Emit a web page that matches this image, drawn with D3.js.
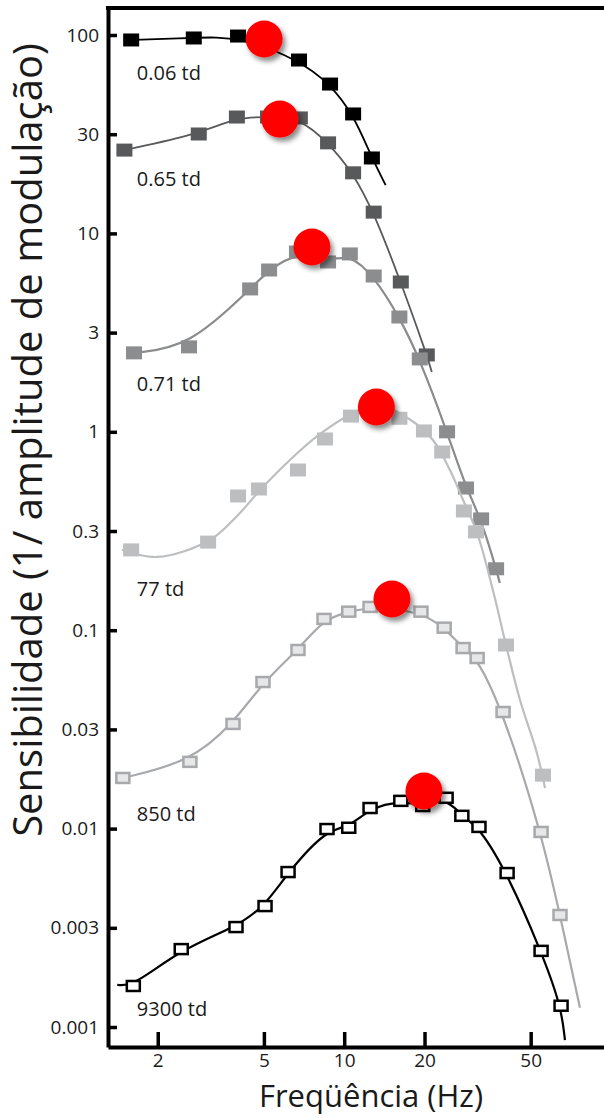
<!DOCTYPE html>
<html><head><meta charset="utf-8">
<script src="https://cdn.jsdelivr.net/npm/d3@7"></script>
<style>html,body{margin:0;padding:0;background:#fff;} svg{display:block;font-family:"Open Sans",sans-serif;}</style>
</head><body><svg id="chart" width="604" height="1118"></svg>
<script>
// ---------- data ----------
const seriesLabels = ["0.06 td", "0.65 td", "0.71 td", "77 td", "850 td", "9300 td"];

const freq006 = [1.59, 2.73, 4.00, 6.77, 8.85, 10.8, 12.7];
const sens006 = [94.4, 96.6, 98.8, 74.8, 56.6, 40.0, 24.0];

const freq065 = [1.50, 2.85, 3.96, 5.18, 6.82, 8.70, 10.8, 12.9, 16.3, 20.4];
const sens065 = [26.3, 31.7, 38.6, 38.6, 38.2, 28.6, 20.2, 12.8, 5.69, 2.44];

const freq071 = [1.63, 2.62, 4.44, 5.23, 6.65, 8.70, 10.5, 12.9, 16.1, 19.2, 24.3, 28.6, 32.6, 37.1];
const sens071 = [2.50, 2.68, 5.25, 6.54, 8.06, 7.18, 7.88, 6.10, 3.79, 2.33, 1.00, 0.521, 0.364, 0.204];

const freq77 = [1.59, 3.09, 4.00, 4.79, 6.71, 8.47, 10.6, 16.1, 19.9, 23.3, 28.1, 31.2, 40.4, 55.6];
const sens77 = [0.254, 0.278, 0.475, 0.515, 0.642, 0.920, 1.20, 1.17, 1.01, 0.791, 0.399, 0.313, 0.0842, 0.0186];

const freq850 = [1.48, 2.64, 3.83, 4.96, 6.71, 8.40, 10.4, 12.5, 19.4, 23.7, 27.9, 31.5, 39.4, 54.7, 64.4];
const sens850 = [0.0180, 0.0217, 0.0337, 0.0548, 0.0795, 0.114, 0.124, 0.131, 0.124, 0.103, 0.0813, 0.0724, 0.0387, 0.00962, 0.00367];

const freq9300 = [1.62, 2.45, 3.93, 5.05, 6.16, 8.62, 10.4, 12.5, 16.3, 19.7, 24.1, 27.6, 32.0, 40.8, 54.7, 65.0];
const sens9300 = [0.00161, 0.00247, 0.00319, 0.00407, 0.00604, 0.00995, 0.0101, 0.0127, 0.0138, 0.0130, 0.0143, 0.0116, 0.0102, 0.00597, 0.00242, 0.00128];

// fitted curve read along the drawn line of the 77 td series
const fitFreq77 = [1.47, 1.99, 3.14, 4.00, 4.84, 6.26, 8.12, 10.5, 13.2, 17.7, 21.5, 24.9, 27.9, 31.5, 36.1, 40.4, 45.6, 52.8, 56.6];
const fitSens77 = [0.254, 0.234, 0.285, 0.381, 0.509, 0.721, 0.975, 1.22, 1.37, 1.15, 0.909, 0.642, 0.453, 0.309, 0.159, 0.0842, 0.0445, 0.0240, 0.0160];

// where each fitted curve begins / ends beyond the data
const lineStartFreq = [null, null, null, null, null, 1.41];
const lineStartSens = [null, null, null, null, null, 0.00163];
const lineEndFreq = [14.3, 21.3, 38.3, null, 76.5, 67.2];
const lineEndSens = [17.5, 2.00, 0.173, null, 0.00125, 0.00086];

// peak (red dot) per series
const peakFreq = [5.01, 5.74, 7.57, 13.2, 15.1, 19.9];
const peakSens = [95.5, 37.7, 8.54, 1.334, 0.1437, 0.01547];

// series label anchor values
const labelFreq = [1.67, 1.67, 1.67, 1.67, 1.67, 1.67];
const labelSens = [59.3, 17.3, 1.606, 0.1487, 0.01092, 0.001136];

const xTickValues = [2, 5, 10, 20, 50];
const xTickLabels = ["2", "5", "10", "20", "50"];
// the original figure places the "3" ticks at half decades
const yTickValues = [100, 31.62, 10, 3.162, 1, 0.3162, 0.1, 0.03162, 0.01, 0.003162, 0.001];
const yTickLabels = ["100", "30", "10", "3", "1", "0.3", "0.1", "0.03", "0.01", "0.003", "0.001"];

const xTitle = "Freqüência (Hz)";
const yTitle = "Sensibilidade (1/ amplitude de modulação)";

// ---------- styling ----------
const styles = [
  {sq: "#000000", stroke: null, line: "#000000", lw: 1.8},
  {sq: "#58595b", stroke: null, line: "#58595b", lw: 1.8},
  {sq: "#8c8d8f", stroke: null, line: "#8a8b8d", lw: 2.2},
  {sq: "#bcbec0", stroke: null, line: "#bcbec0", lw: 2.2},
  {sq: "#e6e7e8", stroke: "#a7a9ac", line: "#a7a9ac", lw: 2.2},
  {sq: "#ffffff", stroke: "#000000", line: "#000000", lw: 2.2}
];

const allFreq = [freq006, freq065, freq071, freq77, freq850, freq9300];
const allSens = [sens006, sens065, sens071, sens77, sens850, sens9300];

const L = 108, R = 604, T = 7, B = 1047;

const x = d3.scaleLog().domain([1.302, 94.15]).range([L, R]);
const y = d3.scaleLog().domain([0.000793, 138.4]).range([B, T]);

const svg = d3.select("#chart");

const defs = svg.append("defs");
const f = defs.append("filter").attr("id", "shadow").attr("x", "-50%").attr("y", "-50%").attr("width", "200%").attr("height", "200%");
f.append("feDropShadow").attr("dx", 3).attr("dy", 4).attr("stdDeviation", 2.5)
  .attr("flood-color", "#000").attr("flood-opacity", 0.45);

// axes
const yAxis = svg.append("g").attr("transform", `translate(${L},0)`)
  .call(d3.axisLeft(y).tickValues(yTickValues)
    .tickFormat((d, i) => yTickLabels[i])
    .tickSizeInner(-9).tickSizeOuter(0).tickPadding(9));
yAxis.select(".domain").attr("stroke", "#000").attr("stroke-width", 4);
yAxis.selectAll(".tick line").attr("stroke", "#000").attr("stroke-width", 3.5);
yAxis.selectAll(".tick text").attr("font-size", 19).attr("fill", "#1a1a1a")
  .attr("font-family", "'Open Sans', sans-serif");

const xAxis = svg.append("g").attr("transform", `translate(0,${B})`)
  .call(d3.axisBottom(x).tickValues(xTickValues)
    .tickFormat((d, i) => xTickLabels[i])
    .tickSizeInner(-15).tickSizeOuter(0).tickPadding(7));
xAxis.select(".domain").attr("stroke", "#000").attr("stroke-width", 4);
xAxis.selectAll(".tick line").attr("stroke", "#000").attr("stroke-width", 3.5);
xAxis.selectAll(".tick text").attr("font-size", 19).attr("fill", "#1a1a1a")
  .attr("font-family", "'Open Sans', sans-serif");

// top frame line
svg.append("line").attr("x1", L - 2).attr("x2", R).attr("y1", T + 1).attr("y2", T + 1)
  .attr("stroke", "#000").attr("stroke-width", 4);

// curves + squares
const lineGen = d3.line().x(d => x(d[0])).y(d => y(d[1]));

allFreq.forEach((fr, i) => {
  const st = styles[i];
  let pts;
  if (i === 3) {
    pts = fitFreq77.map((v, j) => [v, fitSens77[j]]);
    svg.append("path").attr("d", lineGen.curve(d3.curveCatmullRom.alpha(0.5))(pts))
      .attr("fill", "none").attr("stroke", st.line).attr("stroke-width", st.lw);
  } else {
    pts = fr.map((v, j) => [v, allSens[i][j]]);
    if (lineStartFreq[i] !== null) pts.unshift([lineStartFreq[i], lineStartSens[i]]);
    if (lineEndFreq[i] !== null) pts.push([lineEndFreq[i], lineEndSens[i]]);
    svg.append("path").attr("d", lineGen.curve(d3.curveBasis)(pts))
      .attr("fill", "none").attr("stroke", st.line).attr("stroke-width", st.lw);
  }
  const data = fr.map((v, j) => [v, allSens[i][j]]);
  const hollow = st.stroke !== null;
  const w = hollow ? 13 : 16, h = hollow ? 10 : 13;
  svg.append("g").selectAll("rect").data(data).join("rect")
    .attr("x", d => x(d[0]) - w / 2).attr("y", d => y(d[1]) - h / 2)
    .attr("width", w).attr("height", h)
    .attr("fill", st.sq)
    .attr("stroke", hollow ? st.stroke : "none")
    .attr("stroke-width", hollow ? 2.5 : 0);
});

// series labels
svg.append("g").selectAll("text").data(seriesLabels).join("text")
  .attr("x", (d, i) => x(labelFreq[i])).attr("y", (d, i) => y(labelSens[i]))
  .attr("font-size", 20).attr("fill", "#1a1a1a").text(d => d);

// red peak dots
svg.append("g").selectAll("circle").data(peakFreq).join("circle")
  .attr("cx", (d) => x(d)).attr("cy", (d, i) => y(peakSens[i]))
  .attr("r", 18.5).attr("fill", "#ff0000").attr("filter", "url(#shadow)");

// axis titles
svg.append("text").attr("x", 371).attr("y", 1107).attr("text-anchor", "middle")
  .attr("font-size", 31).attr("fill", "#1a1a1a").text(xTitle);
svg.append("text").attr("transform", "translate(42,440) rotate(-90)").attr("text-anchor", "middle")
  .attr("font-size", 40).attr("fill", "#1a1a1a").text(yTitle);
</script>
</body></html>
